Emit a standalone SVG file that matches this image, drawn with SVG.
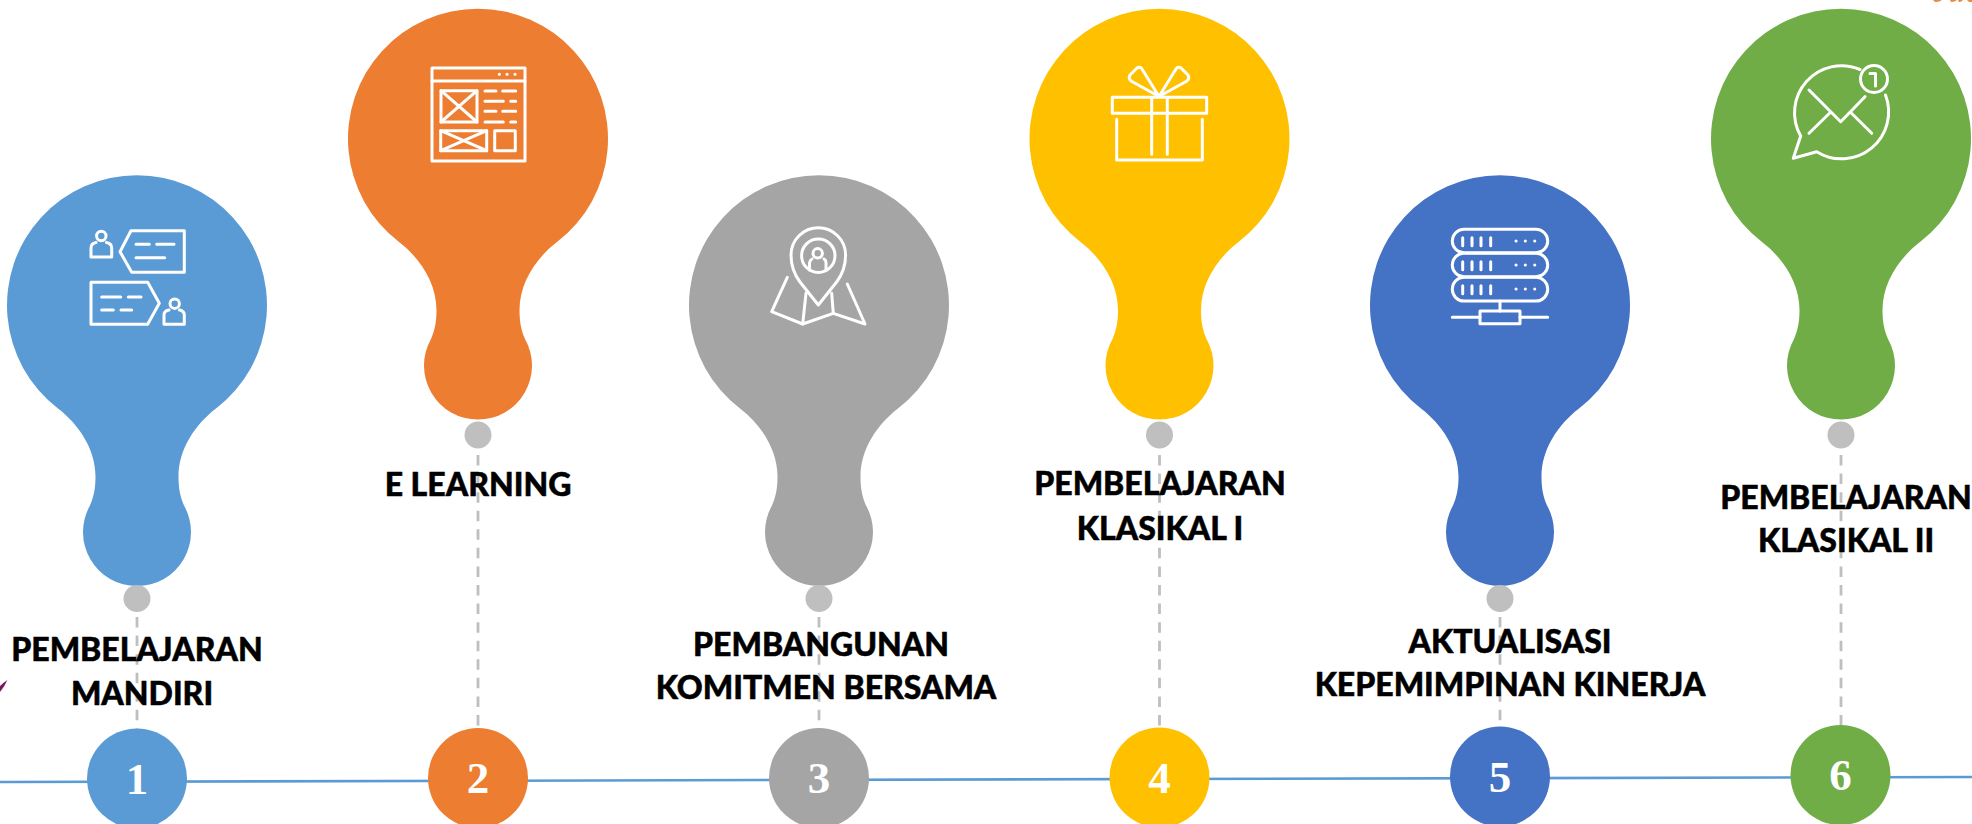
<svg xmlns="http://www.w3.org/2000/svg" xmlns:xlink="http://www.w3.org/1999/xlink" width="1972" height="824" viewBox="0 0 1972 824">
<style>
.dash{stroke:#BFBFBF;stroke-width:2.8;stroke-dasharray:10.5 8.07;fill:none}
.dot{fill:#BFBFBF}
.ic{fill:none;stroke:#fff;stroke-width:3;stroke-linejoin:round;stroke-linecap:round}
.lbl{font-family:Lato,"Open Sans",sans-serif;font-weight:900;font-size:32px;fill:#000;stroke:#000;stroke-width:.5;text-anchor:middle}
.num{font-family:"Liberation Serif",serif;font-weight:700;font-size:45px;fill:#fff;text-anchor:middle}
</style>
<defs>
<path id="bulb" d="M-79 104A130 130 0 1 1 79 104C58 120 41.5 145 41.5 172C41.5 183 43 192 47 201A54 54 0 1 1-47 201C-43 192-41.5 183-41.5 172C-41.5 145-58 120-79 104Z"/>
</defs>
<rect width="1972" height="824" fill="#fff"/>
<g id="connectors">
<line x1="0" y1="782" x2="1972" y2="777" stroke="#5B9BD5" stroke-width="2.6"/>
<line class="dash" x1="137" y1="617" x2="137" y2="730"/>
<line class="dash" x1="478" y1="455" x2="478" y2="730"/>
<line class="dash" x1="819" y1="617" x2="819" y2="730"/>
<line class="dash" x1="1159.5" y1="455" x2="1159.5" y2="730"/>
<line class="dash" x1="1500" y1="617" x2="1500" y2="730"/>
<line class="dash" x1="1841" y1="455" x2="1841" y2="730"/>
</g>
<g id="node1">
<use xlink:href="#bulb" href="#bulb" transform="translate(137,304.5)" fill="#5B9BD5"/>
<circle class="dot" cx="137" cy="598.5" r="13.5"/>
<circle cx="137" cy="778.5" r="50" fill="#5B9BD5"/>
<text class="num" x="137" y="794">1</text>
<text class="lbl" x="137" y="661">PEMBELAJARAN</text>
<text class="lbl" x="142" y="705">MANDIRI</text>
<g class="ic">
<circle cx="101.3" cy="236" r="4.7"/>
<path d="M96 242.5Q91 243.5 91 248V257H111.7V248Q111.7 243.5 106.5 242.5"/>
<path d="M184.3 230.7H131L120 251.7L131.7 272.3H184.3Z"/>
<path d="M136 244.3H149.3M156.7 244.3H174M136 257.7H164.7"/>
<path d="M91 282.3H147.7L159.3 303.3L147.7 324.3H91Z"/>
<path d="M101.7 297H120.7M128.3 297H141M101.7 310H113.3M121 310H131.7"/>
<circle cx="174.7" cy="303.7" r="4.7"/>
<path d="M169 310Q164 311 164 315V324.3H184.3V315Q184.3 311 179.5 310"/>
</g>
</g>
<g id="node2">
<use xlink:href="#bulb" href="#bulb" transform="translate(478,138)" fill="#ED7D31"/>
<circle class="dot" cx="478" cy="435" r="13.5"/>
<circle cx="478" cy="778" r="50" fill="#ED7D31"/>
<text class="num" x="478" y="793">2</text>
<text class="lbl" x="478" y="496">E LEARNING</text>
<g class="ic">
<rect x="432" y="68" width="93" height="93"/>
<path d="M432 81H525"/>
<path d="M499.3 74.3h.1M507 74.3h.1M515 74.3h.1"/>
<rect x="441" y="90.7" width="36" height="31.3"/>
<path d="M441 90.7L477 122M477 90.7L441 122"/>
<path d="M485 91H496M502.7 91H515.7M485 101.3H503.3M510.7 101.3H515.7M485 111.3H496M502.7 111.3H515.7M485 122H503.3M510.7 122H515.7"/>
<rect x="440.7" y="130.7" width="46" height="20"/>
<path d="M440.7 130.7L486.7 150.7M486.7 130.7L440.7 150.7"/>
<rect x="494.7" y="130.7" width="20.6" height="20"/>
</g>
</g>
<g id="node3">
<use xlink:href="#bulb" href="#bulb" transform="translate(819,304.5)" fill="#A5A5A5"/>
<circle class="dot" cx="819" cy="598.5" r="13.5"/>
<circle cx="819" cy="778" r="50" fill="#A5A5A5"/>
<text class="num" x="819" y="793">3</text>
<text class="lbl" x="821" y="656">PEMBANGUNAN</text>
<text class="lbl" x="826" y="699">KOMITMEN BERSAMA</text>
<g class="ic">
<path d="M818.3 305L800 282C794 274 791 265 791 255A27.3 27.3 0 1 1 845.6 255C845.6 265 842.6 274 836.6 282Z"/>
<circle cx="818.3" cy="255.7" r="16.7"/>
<circle cx="817.7" cy="253.3" r="4.7"/>
<path d="M809.5 270V263Q810 260 812 259M826 270V263Q826 260 824 259"/>
<path d="M787.3 277.3L771.7 311.7L802.7 324L833.3 313.3L865 324L847.3 284"/>
<path d="M802.7 324L806 293.3M833.3 313.3L831.7 293.3"/>
</g>
</g>
<g id="node4">
<use xlink:href="#bulb" href="#bulb" transform="translate(1159.5,138)" fill="#FFC000"/>
<circle class="dot" cx="1159.5" cy="435" r="13.5"/>
<circle cx="1159.5" cy="777.5" r="50" fill="#FFC000"/>
<text class="num" x="1159.5" y="792.5">4</text>
<text class="lbl" x="1160" y="495">PEMBELAJARAN</text>
<text class="lbl" x="1160" y="540">KLASIKAL I</text>
<g class="ic">
<rect x="1112.3" y="97.3" width="94.4" height="16"/>
<path d="M1116.7 119.3V160H1202.3V119.3"/>
<path d="M1151.7 98V154.3M1167.3 98V154.3"/>
<path d="M1159 96.5L1131 81Q1128 78 1130 75L1137 68Q1140 66 1142 69Z"/>
<path d="M1159 96.5L1187 81Q1190 78 1188 75L1181 68Q1178 66 1176 69Z"/>
</g>
</g>
<g id="node5">
<use xlink:href="#bulb" href="#bulb" transform="translate(1500,304.5)" fill="#4472C4"/>
<circle class="dot" cx="1500" cy="598.5" r="13.5"/>
<circle cx="1500" cy="776.5" r="50" fill="#4472C4"/>
<text class="num" x="1500" y="791.5">5</text>
<text class="lbl" x="1510" y="653">AKTUALISASI</text>
<text class="lbl" x="1510" y="696">KEPEMIMPINAN KINERJA</text>
<g class="ic">
<rect x="1452.3" y="229.3" width="95.4" height="23.4" rx="11.7"/>
<rect x="1452.3" y="253.3" width="95.4" height="23.4" rx="11.7"/>
<rect x="1452.3" y="277.3" width="95.4" height="23.7" rx="11.7"/>
<path d="M1462.7 237.7v8M1472 237.7v8M1481 237.7v8M1490.7 237.7v8M1462.7 261.7v8M1472 261.7v8M1481 261.7v8M1490.7 261.7v8M1462.7 285.7v8M1472 285.7v8M1481 285.7v8M1490.7 285.7v8"/>
<path d="M1516 241h.1M1525.3 241h.1M1534.7 241h.1M1516 265h.1M1525.3 265h.1M1534.7 265h.1M1516 289h.1M1525.3 289h.1M1534.7 289h.1"/>
<path d="M1500 301V311"/>
<rect x="1480" y="311" width="40" height="12.7"/>
<path d="M1452.3 317.3H1480M1520 317.3H1547.7"/>
</g>
</g>
<g id="node6">
<use xlink:href="#bulb" href="#bulb" transform="translate(1841,138)" fill="#70AD47"/>
<circle class="dot" cx="1841" cy="435" r="13.5"/>
<circle cx="1840.5" cy="775" r="50" fill="#70AD47"/>
<text class="num" x="1840.5" y="790">6</text>
<text class="lbl" x="1846" y="509">PEMBELAJARAN</text>
<text class="lbl" x="1846" y="552">KLASIKAL II</text>
<g class="ic">
<path d="M1860 69.5A47 47 0 0 0 1800.7 136L1793.3 158.3L1816.7 151.7A47 47 0 0 0 1885.5 95"/>
<circle cx="1874" cy="79" r="13.5"/>
<path d="M1809 90L1840.7 121.7L1865 96.7M1809 133.3L1830 112.7M1871.7 133.3L1851 112.7"/>
<path d="M1870 73.5H1875.5V86" stroke-width="3"/>
</g>
</g>
<path d="M7.3 680Q5 686 0 692V686Q3 683 7.3 680Z" fill="#7A1A5E"/>
<path d="M1933 0H1942Q1939 2.5 1935 2ZM1950 0H1957Q1954 2.5 1951 2ZM1958 0H1963Q1961 2.5 1959 2ZM1967 0H1972V2H1969Z" fill="#E98A45"/>
</svg>
